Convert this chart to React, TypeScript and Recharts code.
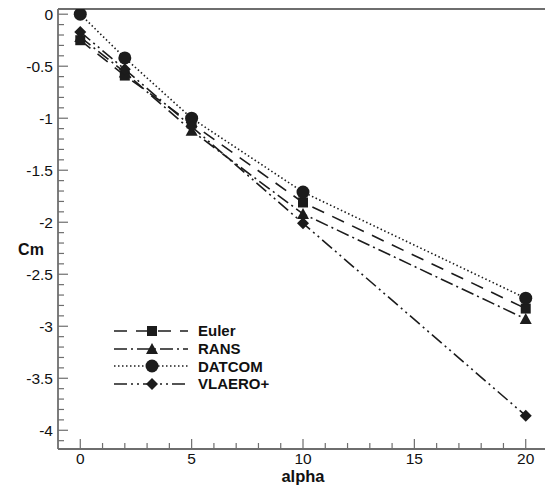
import React from "react";
import { LineChart, Line, XAxis, YAxis, Legend, ReferenceLine } from "recharts";

const alpha = [0, 2, 5, 10, 20];
const euler = [-0.25, -0.59, -1.05, -1.81, -2.83];
const rans = [-0.22, -0.56, -1.12, -1.92, -2.93];
const datcom = [0.0, -0.42, -1.0, -1.71, -2.73];
const vlaero = [-0.17, -0.53, -1.08, -2.01, -3.86];

const yMajor = [0, -0.5, -1, -1.5, -2, -2.5, -3, -3.5, -4];
const xMajor = [0, 5, 10, 15, 20];
const yTicks = Array.from({ length: 42 }, (_, i) => -i / 10);
const xTicks = Array.from({ length: 21 }, (_, i) => i);

const data = alpha.map((a, i) => ({
  alpha: a,
  euler: euler[i],
  rans: rans[i],
  datcom: datcom[i],
  vlaero: vlaero[i],
}));

const INK = "#1c1c1c";
const AXIS = "#6e6e6e";
const FONT = "'Liberation Sans', Arial, sans-serif";

type Kind = "square" | "triangle" | "circle" | "diamond";

function Marker({ kind, cx, cy }: { kind: Kind; cx: number; cy: number }) {
  if (kind === "square") return <rect x={cx - 5} y={cy - 5} width={10} height={10} fill={INK} />;
  if (kind === "triangle")
    return <polygon points={`${cx},${cy - 6} ${cx + 6},${cy + 5} ${cx - 6},${cy + 5}`} fill={INK} />;
  if (kind === "diamond")
    return <polygon points={`${cx},${cy - 6} ${cx + 6},${cy} ${cx},${cy + 6} ${cx - 6},${cy}`} fill={INK} />;
  return <circle cx={cx} cy={cy} r={6.5} fill={INK} />;
}

const series = [
  { key: "euler", name: "Euler", kind: "square" as Kind, dash: "13 9" },
  { key: "rans", name: "RANS", kind: "triangle" as Kind, dash: "13 4 2 4" },
  { key: "datcom", name: "DATCOM", kind: "circle" as Kind, dash: "1.5 2.5" },
  { key: "vlaero", name: "VLAERO+", kind: "diamond" as Kind, dash: "13 4 2 4 2 4" },
];

const YTick = (props: any) => {
  const { x, y, payload } = props;
  const v = payload.value;
  const major = yMajor.some((m) => Math.abs(m - v) < 1e-6);
  return (
    <g>
      <line x1={x} x2={x + (major ? 10 : 6)} y1={y} y2={y} stroke={AXIS} strokeWidth={1.2} />
      {major && (
        <text x={x - 5} y={y} dy="0.36em" textAnchor="end" fontSize={15.5} fill="#111" fontFamily={FONT}>
          {String(v)}
        </text>
      )}
    </g>
  );
};

const XTick = (props: any) => {
  const { x, y, payload } = props;
  const v = payload.value;
  const major = xMajor.includes(v);
  return (
    <g>
      <line x1={x} x2={x} y1={y} y2={y - (major ? 10 : 6)} stroke={AXIS} strokeWidth={1.2} />
      {major && (
        <text x={x} y={y + 15} textAnchor="middle" fontSize={15.5} fill="#111" fontFamily={FONT}>
          {String(v)}
        </text>
      )}
    </g>
  );
};

const LegendBox = () => (
  <div style={{ fontFamily: FONT }}>
    {series.map((s) => (
      <div key={s.key} style={{ display: "flex", alignItems: "center", height: 17.7 }}>
        <svg width={80} height={16}>
          <line x1={2} x2={76} y1={8} y2={8} stroke={INK} strokeWidth={1.6} strokeDasharray={s.dash} />
          <Marker kind={s.kind} cx={40} cy={8} />
        </svg>
        <span style={{ fontWeight: "bold", fontSize: 15, marginLeft: 6, color: "#111" }}>{s.name}</span>
      </div>
    ))}
  </div>
);

export default function App() {
  return (
    <div style={{ position: "fixed", left: 0, top: 0, width: 545, height: 486, overflow: "hidden", background: "#fff" }}>
      <LineChart width={550} height={486} data={data} margin={{ top: 9, right: 2, left: 0, bottom: 0 }}>
        <XAxis
          dataKey="alpha"
          type="number"
          domain={[-1, 21]}
          ticks={xTicks}
          interval={0}
          height={37}
          tickSize={0}
          tickMargin={0}
          tick={<XTick />}
          tickLine={false}
          axisLine={{ stroke: AXIS, strokeWidth: 1.8 }}
          label={{
            content: () => (
              <text x={303} y={482} textAnchor="middle" fontSize={16.5} fontWeight="bold" fill="#111" fontFamily={FONT}>
                alpha
              </text>
            ),
          }}
        />
        <YAxis
          type="number"
          domain={[-4.18, 0.05]}
          allowDataOverflow
          ticks={yTicks}
          interval={0}
          width={58}
          tickSize={0}
          tickMargin={0}
          tick={<YTick />}
          tickLine={false}
          axisLine={{ stroke: AXIS, strokeWidth: 1.8 }}
          label={{
            content: () => (
              <text x={31} y={255} textAnchor="middle" fontSize={16} fontWeight="bold" fill="#111" fontFamily={FONT}>
                Cm
              </text>
            ),
          }}
        />
        <ReferenceLine y={0.05} stroke={AXIS} strokeWidth={2} />
        {series.map((s) => (
          <Line
            key={s.key}
            dataKey={s.key}
            name={s.name}
            type="linear"
            stroke={INK}
            strokeWidth={1.6}
            strokeDasharray={s.dash}
            dot={(p: any) => <Marker key={`${s.key}-${p.index}`} kind={s.kind} cx={p.cx} cy={p.cy} />}
            activeDot={false}
            isAnimationActive={false}
          />
        ))}
        <Legend
          layout="horizontal"
          verticalAlign="middle"
          align="center"
          content={<LegendBox />}
          wrapperStyle={{ position: "absolute", left: 112, top: 322, width: 200, bottom: "auto" }}
        />
      </LineChart>
    </div>
  );
}
